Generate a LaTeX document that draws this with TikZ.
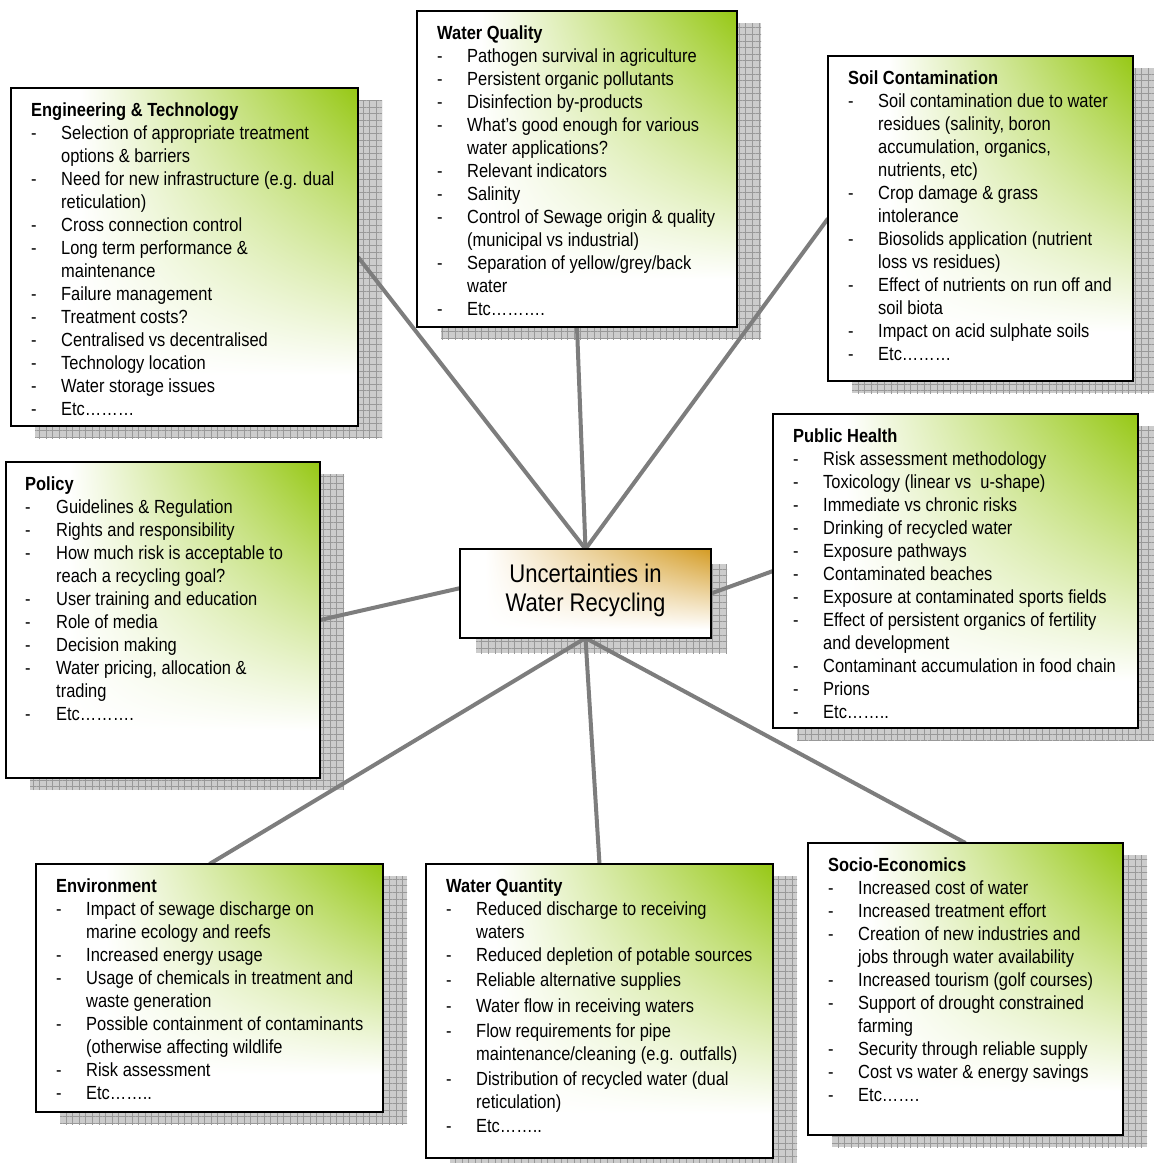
\documentclass[tikz,border=0pt]{standalone}
\usepackage{fontspec}
\setmainfont{Liberation Sans}[FakeStretch=0.866]
\usetikzlibrary{patterns.meta,calc}
\definecolor{linegray}{RGB}{125,125,125}
% green (150,200,20) concentrated in the top right corner; box spans 25bp..75bp
\pgfdeclarefunctionalshading{greenfun}{\pgfpointorigin}{\pgfpoint{100bp}{100bp}}{}{
  25 sub 50 div 0.15 sub 0.85 div dup 0 lt {pop 0} if dup 1 gt {pop 1} if
  exch 25 sub 50 div 0.2 sub 0.8 div dup 0 lt {pop 0} if dup 1 gt {pop 1} if
  mul
  dup 0.412 mul 1 exch sub
  exch dup 0.216 mul 1 exch sub
  exch 0.922 mul 1 exch sub
}
% gold (212,155,35)
\pgfdeclarefunctionalshading{goldfun}{\pgfpointorigin}{\pgfpoint{100bp}{100bp}}{}{
  25 sub 50 div 0.1 sub 0.9 div dup 0 lt {pop 0} if dup 1 gt {pop 1} if
  exch 25 sub 50 div 0.1 sub 0.9 div dup 0 lt {pop 0} if dup 1 gt {pop 1} if
  mul
  dup 0.169 mul 1 exch sub
  exch dup 0.392 mul 1 exch sub
  exch 0.863 mul 1 exch sub
}
\pgfdeclarelayer{bglayer}
\pgfdeclarelayer{shadowlayer}
\pgfdeclarelayer{linelayer}
\pgfsetlayers{bglayer,shadowlayer,linelayer,main}
\newcommand{\hd}[1]{\multicolumn{2}{@{}l@{}}{\bfseries #1}}
\newcommand{\boxshadow}[3]{\fill[shadowstyle] ($(#1.north west)+(#2,#3)$) rectangle ($(#1.south east)+(#2,#3)$);}
\tikzset{
  box/.style={rectangle, draw=black, line width=2pt, shading=greenfun, shading angle=0,
    anchor=north west, inner sep=0pt, outer sep=0pt},
  centrebox/.style={box, shading=goldfun},
  shadowstyle/.style={fill=gray!40, postaction={pattern={Hatch[angle=0,distance=6.6pt,line width=0.7pt]}, pattern color=gray!80}},
  conn/.style={draw=linegray, line width=4pt},
  txt/.style={anchor=base west, inner sep=0pt, font=\fontsize{19}{23}\selectfont},
}
\begin{document}
\begin{tikzpicture}[x=1pt,y=-1pt]
\begin{pgfonlayer}{bglayer}
\fill[white] (0,0) rectangle (1154,1163);
\end{pgfonlayer}
\useasboundingbox (0,0) rectangle (1154,1163);

% boxes
\node[box, minimum width=347pt, minimum height=338pt] (eng) at (11,88) {};
\node[box, minimum width=320pt, minimum height=316pt] (wq) at (417,11) {};
\node[box, minimum width=305pt, minimum height=325pt] (soil) at (828,56) {};
\node[box, minimum width=314pt, minimum height=316pt] (pol) at (6,462) {};
\node[centrebox, minimum width=251pt, minimum height=89pt] (ctr) at (460,549) {};
\node[box, minimum width=365pt, minimum height=314pt] (ph) at (773,414) {};
\node[box, minimum width=347pt, minimum height=248pt] (env) at (36,864) {};
\node[box, minimum width=347pt, minimum height=294pt] (wqn) at (426,864) {};
\node[box, minimum width=315pt, minimum height=292pt] (soc) at (808,843) {};

% shadows
\begin{pgfonlayer}{shadowlayer}
\boxshadow{eng}{24}{12}
\boxshadow{wq}{24}{12}
\boxshadow{soil}{24}{12}
\boxshadow{pol}{24}{12}
\boxshadow{ctr}{16}{15}
\boxshadow{ph}{24}{12}
\boxshadow{env}{24}{12}
\boxshadow{wqn}{24}{12}
\boxshadow{soc}{24}{12}
\end{pgfonlayer}

% connectors
\begin{pgfonlayer}{linelayer}
\coordinate (ctrW) at ($(ctr.north west)!0.44!(ctr.south west)$);
\draw[conn] (eng.east) -- (ctr.north);
\draw[conn] (wq.south) -- (ctr.north);
\draw[conn] (soil.west) -- (ctr.north);
\draw[conn] (pol.east) -- (ctrW);
\draw[conn] (ph.west) -- (ctr.east);
\draw[conn] (env.north) -- (ctr.south);
\draw[conn] (wqn.north) -- (ctr.south);
\draw[conn] (soc.north) -- (ctr.south);
\end{pgfonlayer}

% centre text
\node[inner sep=0pt, align=center, font=\fontsize{25.5}{29}\selectfont] (ctrT) at (585.5,590) {Uncertainties in\\Water Recycling};

% texts
\node[txt] (engT) at (31,116) {\begin{tabular}[t]{@{}p{30pt}@{}l@{}}
\hd{Engineering \& Technology}\\
- & Selection of appropriate treatment\\
  & options \& barriers\\
- & Need for new infrastructure (e.g. dual\\
  & reticulation)\\
- & Cross connection control\\
- & Long term performance \&\\
  & maintenance\\
- & Failure management\\
- & Treatment costs?\\
- & Centralised vs decentralised\\
- & Technology location\\
- & Water storage issues\\
- & Etc………
\end{tabular}};

\node[txt] (wqT) at (437,39) {\begin{tabular}[t]{@{}p{30pt}@{}l@{}}
\hd{Water Quality}\\
- & Pathogen survival in agriculture\\
- & Persistent organic pollutants\\
- & Disinfection by-products\\
- & What’s good enough for various\\
  & water applications?\\
- & Relevant indicators\\
- & Salinity\\
- & Control of Sewage origin \& quality\\
  & (municipal vs industrial)\\
- & Separation of yellow/grey/back\\
  & water\\
- & Etc……….
\end{tabular}};

\node[txt] (soilT) at (848,84) {\begin{tabular}[t]{@{}p{30pt}@{}l@{}}
\hd{Soil Contamination}\\
- & Soil contamination due to water\\
  & residues (salinity, boron\\
  & accumulation, organics,\\
  & nutrients, etc)\\
- & Crop damage \& grass\\
  & intolerance\\
- & Biosolids application (nutrient\\
  & loss vs residues)\\
- & Effect of nutrients on run off and\\
  & soil biota\\
- & Impact on acid sulphate soils\\
- & Etc………
\end{tabular}};

\node[txt] (polT) at (25,490) {\begin{tabular}[t]{@{}p{31pt}@{}l@{}}
\hd{Policy}\\
- & Guidelines \& Regulation\\
- & Rights and responsibility\\
- & How much risk is acceptable to\\
  & reach a recycling goal?\\
- & User training and education\\
- & Role of media\\
- & Decision making\\
- & Water pricing, allocation \&\\
  & trading\\
- & Etc……….
\end{tabular}};

\node[txt] (phT) at (793,442) {\begin{tabular}[t]{@{}p{30pt}@{}l@{}}
\hd{Public Health}\\
- & Risk assessment methodology\\
- & Toxicology (linear vs\ \ u-shape)\\
- & Immediate vs chronic risks\\
- & Drinking of recycled water\\
- & Exposure pathways\\
- & Contaminated beaches\\
- & Exposure at contaminated sports fields\\
- & Effect of persistent organics of fertility\\
  & and development\\
- & Contaminant accumulation in food chain\\
- & Prions\\
- & Etc……..
\end{tabular}};

\node[txt] (envT) at (56,892) {\begin{tabular}[t]{@{}p{30pt}@{}l@{}}
\hd{Environment}\\
- & Impact of sewage discharge on\\
  & marine ecology and reefs\\
- & Increased energy usage\\
- & Usage of chemicals in treatment and\\
  & waste generation\\
- & Possible containment of contaminants\\
  & (otherwise affecting wildlife\\
- & Risk assessment\\
- & Etc……..
\end{tabular}};

\node[txt] (wqnT) at (446,892) {\begin{tabular}[t]{@{}p{30pt}@{}l@{}}
\hd{Water Quantity}\\
- & Reduced discharge to receiving\\
  & waters\\
- & Reduced depletion of potable sources\\[2pt]
- & Reliable alternative supplies\\[3pt]
- & Water flow in receiving waters\\[2pt]
- & Flow requirements for pipe\\
  & maintenance/cleaning (e.g. outfalls)\\[2pt]
- & Distribution of recycled water (dual\\
  & reticulation)\\[1pt]
- & Etc……..
\end{tabular}};

\node[txt] (socT) at (828,871) {\begin{tabular}[t]{@{}p{30pt}@{}l@{}}
\hd{Socio-Economics}\\
- & Increased cost of water\\
- & Increased treatment effort\\
- & Creation of new industries and\\
  & jobs through water availability\\
- & Increased tourism (golf courses)\\
- & Support of drought constrained\\
  & farming\\
- & Security through reliable supply\\
- & Cost vs water \& energy savings\\
- & Etc…….
\end{tabular}};
\end{tikzpicture}
\end{document}
